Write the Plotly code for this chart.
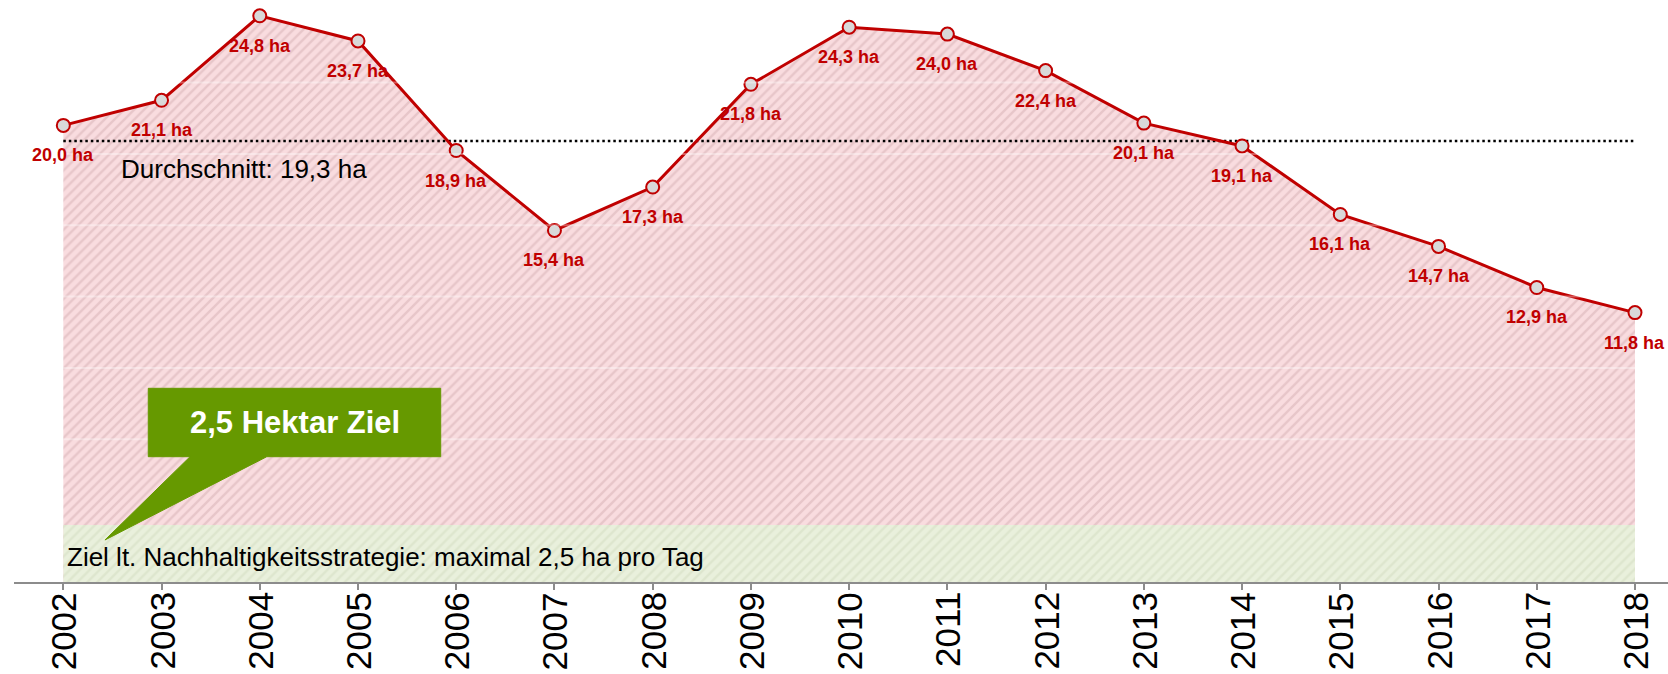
import numpy as np
import plotly.graph_objects as go

# ---------------- data ----------------
years = [2002, 2003, 2004, 2005, 2006, 2007, 2008, 2009, 2010,
         2011, 2012, 2013, 2014, 2015, 2016, 2017, 2018]
hectares_per_day = [20.0, 21.1, 24.8, 23.7, 18.9, 15.4, 17.3, 21.8, 24.3,
                    24.0, 22.4, 20.1, 19.1, 16.1, 14.7, 12.9, 11.8]
year_labels = [str(y) for y in years]
goal_value = 2.5
goal_text = "2,5 Hektar Ziel"
goal_caption = "Ziel lt. Nachhaltigkeitsstrategie: maximal 2,5 ha pro Tag"

average = float(np.mean(hectares_per_day))

def de(v):
    return f"{v:.1f}".replace(".", ",")

point_labels = [f"{de(v)} ha" for v in hectares_per_day]
avg_label = f"Durchschnitt: {de(average)} ha"

# ---------------- style ----------------
FONT = "Liberation Sans, Arial, sans-serif"
RED = "#c00000"
GREEN = "#669900"
Y_MIN, Y_MAX = 0.0, 24.967
X_MIN, X_MAX = 2001.498, 2018.336
GRID_STEP = 25 / 8

fig = go.Figure()

# pink hatched area under the curve
fig.add_trace(go.Scatter(
    x=years, y=hectares_per_day, mode="none", fill="tozeroy",
    fillcolor="#f8d9dc",
    fillpattern=dict(shape="/", bgcolor="#f9dcdf", fgcolor="#d5b0b3",
                     size=7, solidity=0.35),
    hoverinfo="skip"))

# green goal band (0 .. 2.5 ha)
fig.add_trace(go.Scatter(
    x=[years[0], years[-1]], y=[goal_value, goal_value], mode="none",
    fill="tozeroy", fillcolor="#e8efda",
    fillpattern=dict(shape="/", bgcolor="#e9f0dc", fgcolor="#d2dcc0",
                     size=7, solidity=0.35),
    hoverinfo="skip"))

# average dotted line
fig.add_trace(go.Scatter(
    x=[years[0], years[-1]], y=[average, average], mode="lines",
    line=dict(color="black", width=2.5, dash="2.5px,3px"),
    hoverinfo="skip"))

# main line with markers
fig.add_trace(go.Scatter(
    x=years, y=hectares_per_day, mode="lines+markers",
    line=dict(color=RED, width=3),
    marker=dict(size=13, color="#d9d9d9", line=dict(color=RED, width=2)),
    cliponaxis=False, hoverinfo="skip"))

shapes = []
# faint grid lines drawn over the fill
for k in range(2, 8):
    gy = k * GRID_STEP
    shapes.append(dict(type="line", xref="x", yref="y",
                       x0=years[0], x1=years[-1], y0=gy, y1=gy,
                       line=dict(color="rgba(255,255,255,0.35)", width=2),
                       layer="above"))

# callout (box + pointer)
bx0, bx1, by0, by1 = 2002.865, 2005.842, 5.488, 8.484
px0, px1, tipx, tipy = 2003.290, 2004.071, 2002.424, 1.840
path = (f"M {bx0},{by0} L {bx0},{by1} L {bx1},{by1} L {bx1},{by0} "
        f"L {px1},{by0} L {tipx},{tipy} L {px0},{by0} Z")
shapes.append(dict(type="path", xref="x", yref="y", path=path,
                   fillcolor=GREEN, line=dict(color=GREEN, width=1),
                   layer="above"))

annotations = []
for x, y, t in zip(years, hectares_per_day, point_labels):
    annotations.append(dict(x=x, y=y, text=t, showarrow=False,
                            xanchor="center", yanchor="middle", yshift=-30,
                            font=dict(family=FONT, size=18, color=RED,
                                      weight="bold")))

# year labels (rotated) just below the axis
for x, t in zip(years, year_labels):
    annotations.append(dict(x=x, y=0, text=t, showarrow=False, textangle=-90,
                            xanchor="center", yanchor="top", yshift=-8,
                            font=dict(family=FONT, size=35, color="black")))

annotations.append(dict(x=years[0], y=average, text=avg_label, showarrow=False,
                        xanchor="left", yanchor="middle", xshift=56, yshift=-28,
                        font=dict(family=FONT, size=26, color="black")))

annotations.append(dict(x=years[0], y=0, text=goal_caption, showarrow=False,
                        xanchor="left", yanchor="middle", xshift=2, yshift=25,
                        font=dict(family=FONT, size=26, color="black")))

annotations.append(dict(x=(bx0 + bx1) / 2, y=(by0 + by1) / 2, text=goal_text,
                        showarrow=False, xanchor="center", yanchor="middle",
                        font=dict(family=FONT, size=31, color="white",
                                  weight="bold")))

fig.update_layout(
    width=1668, height=674,
    margin=dict(l=14, r=0, t=12, b=92),
    paper_bgcolor="white", plot_bgcolor="white",
    showlegend=False,
    shapes=shapes, annotations=annotations,
    xaxis=dict(range=[X_MIN, X_MAX], tickmode="array", tickvals=years,
               showticklabels=False,
               showgrid=False, zeroline=False,
               showline=True, linecolor="#8c8c8c", linewidth=2,
               ticks="outside", ticklen=6, tickwidth=2, tickcolor="#8c8c8c"),
    yaxis=dict(range=[Y_MIN, Y_MAX], visible=False, showgrid=False,
               zeroline=False),
)

fig.write_html(
    "out.html",
    config={"displayModeBar": False},
    post_script="document.body.style.margin='0px';"
                "document.body.style.overflow='hidden';",
)
